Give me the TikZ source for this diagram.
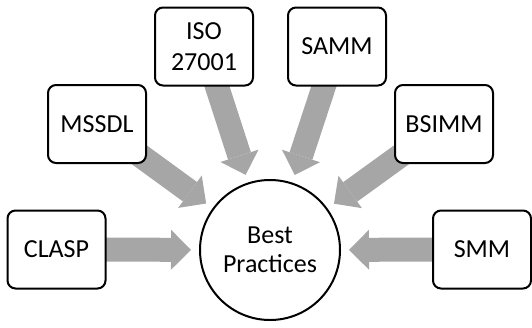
\documentclass[tikz,border=0pt]{standalone}
\usepackage{fontspec}
\setmainfont{Carlito}
\usetikzlibrary{arrows.meta,calc,backgrounds}
\definecolor{arrowgray}{HTML}{A6A6A6}
\begin{document}
\begin{tikzpicture}[x=1pt,y=-1pt,
  box/.style={draw,line width=2pt,rounded corners=8pt,fill=white,
    minimum width=98pt,minimum height=78pt,inner sep=0pt,align=center,
    font=\fontsize{26}{31}\selectfont},
  hub/.style={draw,circle,line width=2pt,fill=white,minimum size=140pt,
    inner sep=0pt,align=center,font=\fontsize{26}{29}\selectfont},
  feed/.style={draw=arrowgray,line width=24pt,
    -{Triangle[width=40pt,length=20pt,line width=0pt]}}]
\useasboundingbox (0,0) rectangle (532,327);

% central hub
\node[hub] (bp) at (270,250) {Best\\Practices};

% surrounding frameworks
\node[box] (clasp) at (56.5,249.5) {CLASP};
\node[box] (mssdl) at (97,124) {MSSDL};
\node[box] (iso)   at (204,46.5) {ISO\\27001};
\node[box] (samm)  at (337,46.5) {SAMM};
\node[box] (bsimm) at (444,124) {BSIMM};
\node[box] (smm)   at (482,249.5) {SMM};

% block arrows pointing at the hub, drawn behind the boxes
\begin{scope}[on background layer]
  \foreach \n in {clasp,mssdl,iso,samm,bsimm,smm}
    \draw[feed] (\n.center) -- ($(bp.center)!79pt!(\n.center)$);
\end{scope}
\end{tikzpicture}
\end{document}
